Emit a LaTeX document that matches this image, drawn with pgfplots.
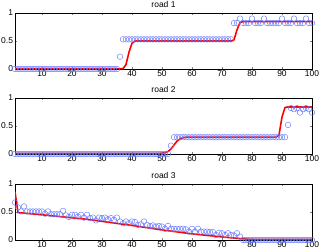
\documentclass[border=0pt]{standalone}
\usepackage{pgfplots}
\pgfplotsset{compat=1.18}
\usepackage{fontspec}
\setmainfont{Liberation Sans}
\definecolor{mblue}{rgb}{0.4,0.47,1}
\pgfplotsset{
  roadax/.style={
    scale only axis, width=297bp, height=56bp,
    xmin=1, xmax=100, ymin=0, ymax=1,
    xtick={10,20,...,100}, ytick={0,0.5,1},
    tick align=inside, major tick length=2bp,
    every tick label/.append style={font=\fontsize{8.5}{9}\selectfont},
    /pgf/number format/assume math mode=true,
    title style={font=\fontsize{8.5}{9}\selectfont, yshift=-4.5pt},
    axis line style={line width=0.5pt},
    xticklabel style={yshift=1.5pt},
    yticklabel style={xshift=1.5pt},
    anchor=south west,
  },
  circ/.style={only marks, mark=o, mark size=2.8bp, mblue, mark options={line width=0.45pt}},
  redl/.style={red, line width=1.6pt, no marks},
}
\begin{document}
\begin{tikzpicture}
\useasboundingbox (0,0) rectangle (319bp,252bp);
% road 1
\begin{axis}[roadax, at={(15bp,183bp)}, title={road 1}]
\addplot[circ] coordinates {
(1,0)(2,0)(3,0)(4,0)(5,0)(6,0)(7,0)(8,0)(9,0)(10,0)
(11,0)(12,0)(13,0)(14,0)(15,0)(16,0)(17,0)(18,0)(19,0)(20,0)
(21,0)(22,0)(23,0)(24,0)(25,0)(26,0)(27,0)(28,0)(29,0)(30,0)
(31,0)(32,0)(33,0)(34,0)(35,0)(36,0.22)(37,0.53)(38,0.53)(39,0.53)(40,0.53)
(41,0.53)(42,0.53)(43,0.53)(44,0.53)(45,0.53)(46,0.53)(47,0.53)(48,0.53)(49,0.53)(50,0.53)
(51,0.53)(52,0.53)(53,0.53)(54,0.53)(55,0.53)(56,0.53)(57,0.53)(58,0.53)(59,0.53)(60,0.53)
(61,0.53)(62,0.53)(63,0.53)(64,0.53)(65,0.53)(66,0.53)(67,0.53)(68,0.53)(69,0.53)(70,0.53)
(71,0.53)(72,0.53)(73,0.53)(74,0.82)(75,0.82)(76,0.9)(77,0.82)(78,0.82)(79,0.82)(80,0.9)
(81,0.82)(82,0.82)(83,0.82)(84,0.9)(85,0.82)(86,0.82)(87,0.82)(88,0.82)(89,0.82)(90,0.9)
(91,0.82)(92,0.82)(93,0.82)(94,0.9)(95,0.82)(96,0.82)(97,0.82)(98,0.9)(99,0.82)(100,0.82)
};
\addplot[redl] coordinates {
(1,0.005)(37,0.005)(38,0.08)(39,0.3)(40,0.46)(41,0.5)(73,0.5)(74,0.52)(75,0.7)(76,0.83)(77,0.845)(100,0.845)
};
\end{axis}
% road 2
\begin{axis}[roadax, at={(15bp,98bp)}, title={road 2}]
\addplot[circ] coordinates {
(1,0)(2,0)(3,0)(4,0)(5,0)(6,0)(7,0)(8,0)(9,0)(10,0)
(11,0)(12,0)(13,0)(14,0)(15,0)(16,0)(17,0)(18,0)(19,0)(20,0)
(21,0)(22,0)(23,0)(24,0)(25,0)(26,0)(27,0)(28,0)(29,0)(30,0)
(31,0)(32,0)(33,0)(34,0)(35,0)(36,0)(37,0)(38,0)(39,0)(40,0)
(41,0)(42,0)(43,0)(44,0)(45,0)(46,0)(47,0)(48,0)(49,0)(50,0)
(51,0)(52,0)(53,0.15)(54,0.3)(55,0.3)(56,0.3)(57,0.3)(58,0.3)(59,0.3)(60,0.3)
(61,0.3)(62,0.3)(63,0.3)(64,0.3)(65,0.3)(66,0.3)(67,0.3)(68,0.3)(69,0.3)(70,0.3)
(71,0.3)(72,0.3)(73,0.3)(74,0.3)(75,0.3)(76,0.3)(77,0.3)(78,0.3)(79,0.3)(80,0.3)
(81,0.3)(82,0.3)(83,0.3)(84,0.3)(85,0.3)(86,0.3)(87,0.3)(88,0.3)(89,0.3)(90,0.3)
(91,0.3)(92,0.52)(93,0.82)(94,0.8)(95,0.82)(96,0.74)(97,0.8)(98,0.82)(99,0.8)(100,0.74)
};
\addplot[redl] coordinates {
(1,0.01)(49,0.01)(50,0.015)(51,0.025)(52,0.045)(53,0.09)(54,0.16)(55,0.23)(56,0.27)(57,0.29)(58,0.3)(88,0.3)(89,0.34)(90,0.66)(91,0.83)(92,0.84)(100,0.84)
};
\end{axis}
% road 3
\begin{axis}[roadax, at={(15bp,12bp)}, title={road 3}]
\addplot[circ] coordinates {
(1,0.67)(2,0.58)(3,0.51)(4,0.6)(5,0.51)(6,0.51)(7,0.51)(8,0.51)(9,0.51)(10,0.51)
(11,0.47)(12,0.51)(13,0.46)(14,0.46)(15,0.46)(16,0.46)(17,0.52)(18,0.44)(19,0.41)(20,0.45)
(21,0.45)(22,0.42)(23,0.45)(24,0.4)(25,0.45)(26,0.39)(27,0.4)(28,0.35)(29,0.4)(30,0.39)
(31,0.4)(32,0.37)(33,0.39)(34,0.36)(35,0.4)(36,0.33)(37,0.3)(38,0.33)(39,0.3)(40,0.33)
(41,0.32)(42,0.27)(43,0.28)(44,0.33)(45,0.27)(46,0.25)(47,0.26)(48,0.24)(49,0.25)(50,0.24)
(51,0.2)(52,0.25)(53,0.2)(54,0.2)(55,0.2)(56,0.2)(57,0.2)(58,0.19)(59,0.15)(60,0.2)
(61,0.15)(62,0.2)(63,0.15)(64,0.15)(65,0.15)(66,0.14)(67,0.14)(68,0.09)(69,0.13)(70,0.12)
(71,0.09)(72,0.12)(73,0.09)(74,0.08)(75,0.12)(76,0.06)(77,0)(78,0)(79,0)(80,0)
(81,0)(82,0)(83,0)(84,0)(85,0)(86,0)(87,0)(88,0)(89,0)(90,0)
(91,0)(92,0)(93,0)(94,0)(95,0)(96,0)(97,0)(98,0)(99,0)(100,0)
};
\addplot[redl] coordinates {
(1,0.86)(2,0.49)(10,0.45)(25,0.37)(40,0.26)(50,0.18)(60,0.11)(70,0.055)(76,0.025)(80,0.01)(100,0.01)
};
\end{axis}
\end{tikzpicture}
\end{document}
